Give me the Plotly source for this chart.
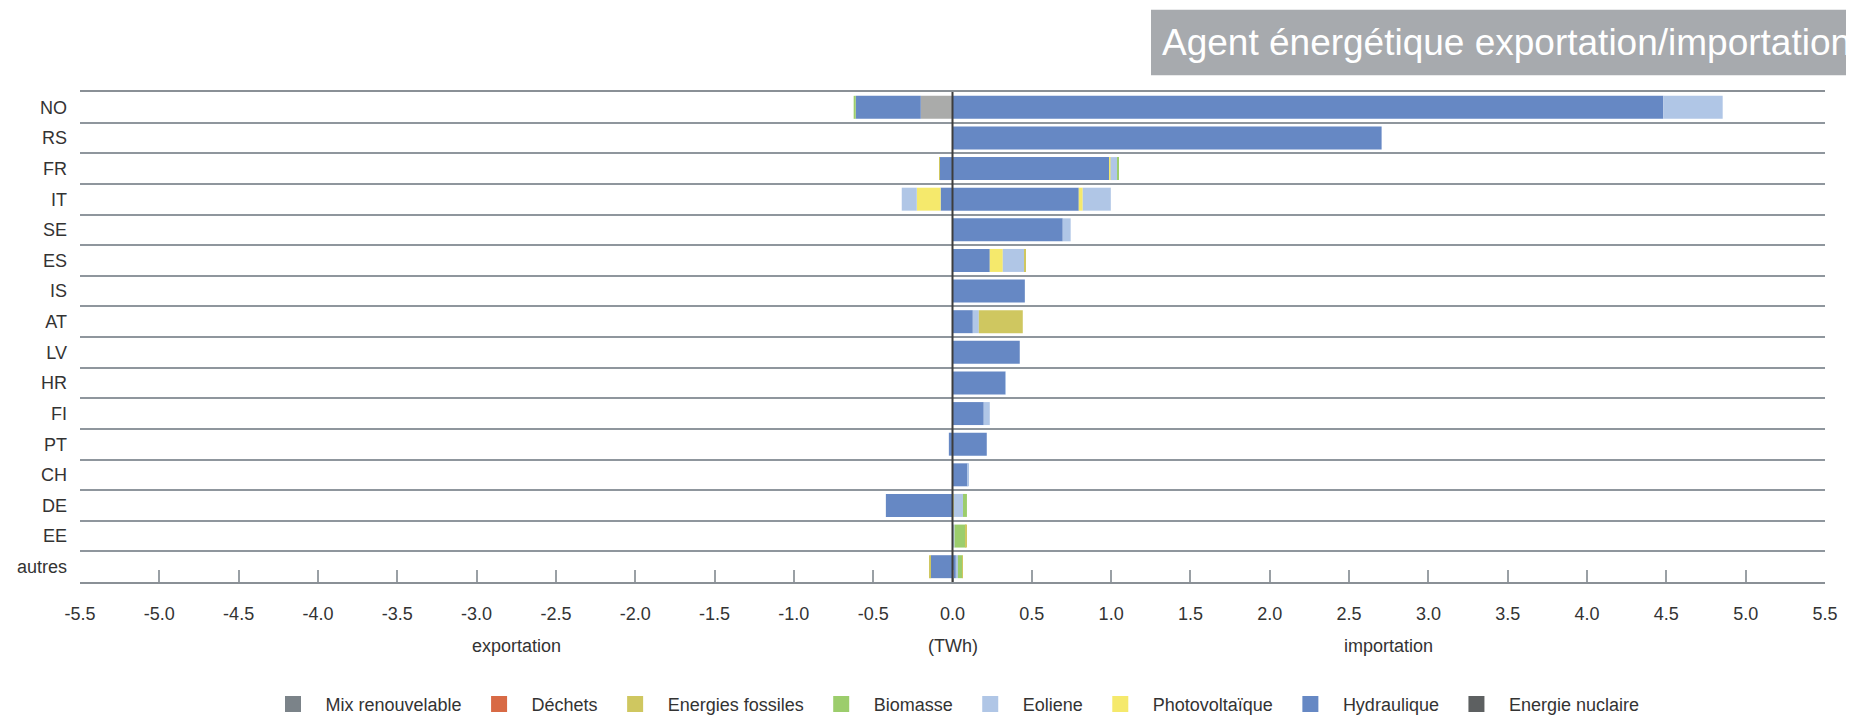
import plotly.graph_objects as go

# Categories, top to bottom as shown
categories = ["NO", "RS", "FR", "IT", "SE", "ES", "IS", "AT", "LV", "HR", "FI", "PT", "CH", "DE", "EE", "autres"]

# Series names (stacking order, nearest zero first)
series_names = ["Energie nuclaire", "Hydraulique", "Photovoltaïque", "Eoliene",
                "Biomasse", "Energies fossiles", "Déchets", "Mix renouvelable"]

# Imports (TWh, positive), per category in the order above
imp_nuclear  = [0, 0, 0, 0, 0, 0, 0, 0, 0, 0, 0, 0, 0, 0, 0, 0]
imp_hydro    = [4.48, 2.705, 0.99, 0.796, 0.695, 0.235, 0.456, 0.128, 0.424, 0.332, 0.197, 0.216, 0.095, 0, 0, 0.021]
imp_pv       = [0, 0, 0.006, 0.025, 0, 0.082, 0, 0, 0, 0, 0, 0, 0, 0.007, 0, 0]
imp_eolien   = [0.375, 0, 0.042, 0.177, 0.05, 0.139, 0, 0.038, 0, 0.004, 0.038, 0, 0.003, 0.059, 0.013, 0.013]
imp_biomasse = [0, 0, 0.008, 0, 0, 0, 0, 0, 0, 0, 0, 0, 0, 0.025, 0.071, 0.027]
imp_fossile  = [0, 0, 0, 0, 0, 0.006, 0, 0.277, 0, 0, 0, 0, 0, 0, 0.004, 0.004]
imp_dechets  = [0] * 16
imp_mix      = [0] * 16

# Exports (TWh, negative)
exp_nuclear  = [-0.2, 0, 0, 0, 0, 0, 0, 0, 0, 0, 0, 0, 0, 0, 0, 0]
exp_hydro    = [-0.41, 0, -0.08, -0.075, 0, 0, 0, 0, 0, 0, 0, -0.023, 0, -0.42, 0, -0.137]
exp_pv       = [0, 0, 0, -0.15, 0, 0, 0, 0, 0, 0, 0, 0, 0, 0, 0, 0]
exp_eolien   = [0, 0, 0, -0.095, 0, 0, 0, 0, 0, 0, 0, 0, 0, 0, 0, 0]
exp_biomasse = [-0.013, 0, 0, 0, 0, 0, 0, 0, 0, 0, 0, 0, 0, 0, 0, 0]
exp_fossile  = [0, 0, -0.005, 0, 0, 0, 0, 0, 0, 0, 0, 0, 0, 0, 0, -0.006]
exp_dechets  = [0] * 16
exp_mix      = [0] * 16

x_tick_vals = [-5.5, -5.0, -4.5, -4.0, -3.5, -3.0, -2.5, -2.0, -1.5, -1.0, -0.5, 0.0,
               0.5, 1.0, 1.5, 2.0, 2.5, 3.0, 3.5, 4.0, 4.5, 5.0, 5.5]
x_tick_text = [f"{v:.1f}" for v in x_tick_vals]

imports = [imp_nuclear, imp_hydro, imp_pv, imp_eolien, imp_biomasse, imp_fossile, imp_dechets, imp_mix]
exports = [exp_nuclear, exp_hydro, exp_pv, exp_eolien, exp_biomasse, exp_fossile, exp_dechets, exp_mix]

colors = {
    "Energie nuclaire": "#5d6061",
    "Hydraulique": "#6688c4",
    "Photovoltaïque": "#f5e96c",
    "Eoliene": "#b0c6e6",
    "Biomasse": "#9ccd6c",
    "Energies fossiles": "#cfc760",
    "Déchets": "#d86a45",
    "Mix renouvelable": "#7b8389",
}
# the nuclear export bar for NO is drawn in a lighter grey in the reference
bar_override = {("Energie nuclaire", "NO"): "#aaabaa"}

FONT = "Liberation Sans, Arial, sans-serif"

# plot bottom-to-top order for plotly (first category at the bottom)
order = list(range(len(categories)))[::-1]
ycats = [categories[i] for i in order]

fig = go.Figure()
for name, imp, exp in zip(series_names, imports, exports):
    cols = [bar_override.get((name, categories[i]), colors[name]) for i in order]
    fig.add_trace(go.Bar(
        y=ycats, x=[imp[i] for i in order], orientation="h", name=name,
        marker=dict(color=cols, line=dict(width=0)), showlegend=False, legendgroup=name,
    ))
    fig.add_trace(go.Bar(
        y=ycats, x=[exp[i] for i in order], orientation="h", name=name,
        marker=dict(color=cols, line=dict(width=0)), showlegend=False, legendgroup=name,
    ))
    # legend entry with a larger square swatch
    fig.add_trace(go.Scatter(
        x=[None], y=[None], mode="markers", name=name, legendgroup=name,
        marker=dict(symbol="square", size=16, color=colors[name]), showlegend=True,
        hoverinfo="skip",
    ))

# The page places the figure 8px from the top-left corner (default body margin),
# so positions measured on the screenshot are shifted back by that offset.
OFF = 8
PLOT_TOP = 91.5 - OFF
PLOT_BOT = 582.5 - OFF
PH = PLOT_BOT - PLOT_TOP
PL, PR = 80 - OFF, 1825 - OFF
PW = PR - PL

def py(px):
    return (PLOT_BOT - (px - OFF)) / PH

def pxp(px):
    return ((px - OFF) - PL) / PW

fig.update_layout(
    width=1854, height=716,
    barmode="relative", bargap=0.25,
    plot_bgcolor="white", paper_bgcolor="white",
    margin=dict(l=PL, r=1854 - PR, t=PLOT_TOP, b=716 - PLOT_BOT, autoexpand=False),
    font=dict(family=FONT, size=18, color="#333333"),
    showlegend=True,
    legend=dict(orientation="h", traceorder="reversed", x=0.5, xanchor="center",
                y=py(705), yanchor="middle", font=dict(size=18, color="#333333"),
                itemwidth=55, itemclick=False, itemdoubleclick=False),
    xaxis=dict(range=[-5.5, 5.5], tickvals=x_tick_vals, ticktext=x_tick_text,
               showgrid=False, zeroline=False, showline=True, linecolor="#8a9096", linewidth=2,
               mirror=True,
               ticks="inside", ticklen=12, tickcolor="#9aa0a5", tickwidth=1.5,
               ticklabelstandoff=14, tickfont=dict(size=18, color="#333333"), fixedrange=True),
    yaxis=dict(type="category", categoryorder="array", categoryarray=ycats,
               tickson="boundaries", showgrid=True, gridcolor="#8f969d", gridwidth=1.5,
               ticks="", showline=False, zeroline=False, ticklabelstandoff=12,
               tickfont=dict(size=18, color="#333333"), fixedrange=True),
    shapes=[
        dict(type="line", xref="x", yref="paper", x0=0, x1=0, y0=0, y1=1,
             line=dict(color="#3d3d3d", width=2), layer="above"),
        dict(type="rect", xref="paper", yref="paper",
             x0=pxp(1151), x1=pxp(1870), y0=py(74.7), y1=py(9),
             fillcolor="#a7aaae", line=dict(width=0), layer="above"),
    ],
    annotations=[
        dict(text="Agent énergétique exportation/importation", xref="paper", yref="paper",
             x=pxp(1160), xanchor="left", y=py(42), yanchor="middle",
             showarrow=False, font=dict(size=37, color="white", family=FONT)),
        dict(text="exportation", xref="x", yref="paper", x=-2.75, y=py(647),
             yanchor="middle", showarrow=False, font=dict(size=18, color="#333333")),
        dict(text="(TWh)", xref="x", yref="paper", x=0, y=py(647),
             yanchor="middle", showarrow=False, font=dict(size=18, color="#333333")),
        dict(text="importation", xref="x", yref="paper", x=2.75, y=py(647),
             yanchor="middle", showarrow=False, font=dict(size=18, color="#333333")),
    ],
)

fig.write_html("out.html")
